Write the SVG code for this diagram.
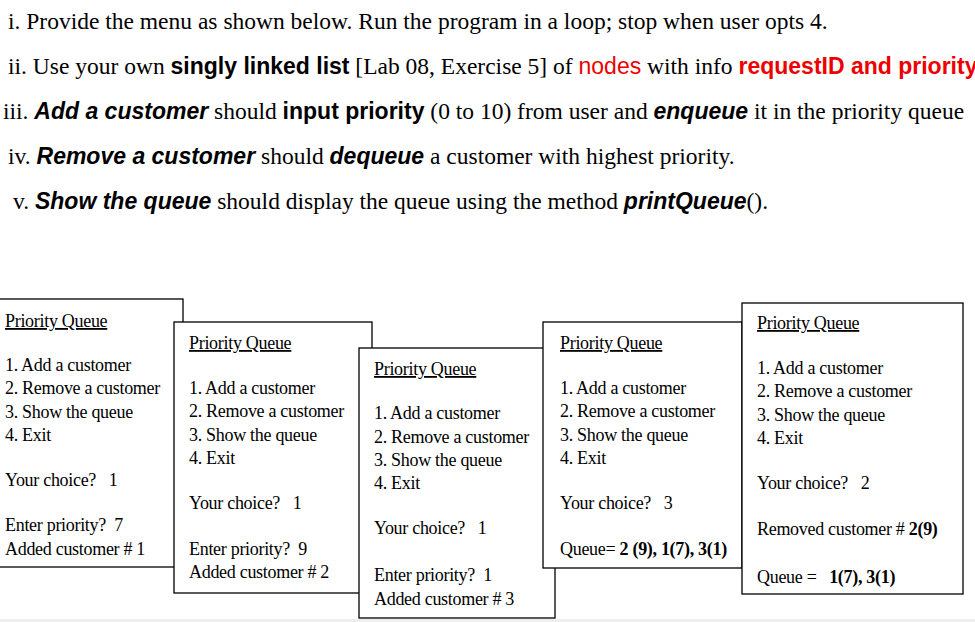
<svg xmlns="http://www.w3.org/2000/svg" width="975" height="622" viewBox="0 0 975 622">
<style>
.t{font-family:"Liberation Serif",serif;font-size:23.5px;fill:#000;white-space:pre}
.s{font-family:"Liberation Sans",sans-serif;font-weight:bold;font-size:23px}
.i{font-style:italic}
.r{fill:#e00}
.b{fill:#fff;stroke:#000;stroke-width:1.3}
.m{font-family:"Liberation Serif",serif;font-size:18px;letter-spacing:-0.3px;fill:#000;white-space:pre}
.u{text-decoration:underline}
.k{font-weight:bold}
</style>
<rect width="975" height="622" fill="#fff"/>
<rect x="0" y="619" width="975" height="3" fill="#eee"/>
<text class="t" x="8" y="29">i. Provide the menu as shown below. Run the program in a loop; stop when user opts 4.</text>
<text class="t" x="8" y="74">ii. Use your own <tspan class="s">singly linked list</tspan> [Lab 08, Exercise 5] of <tspan class="r" font-family="Liberation Sans, sans-serif" font-size="23px">nodes</tspan> with info <tspan class="s r">requestID and priority</tspan></text>
<text class="t" x="3" y="119">iii. <tspan class="s i">Add a customer</tspan> should <tspan class="s">input priority</tspan> (0 to 10) from user and <tspan class="s i">enqueue</tspan> it in the priority queue</text>
<text class="t" x="8" y="164">iv. <tspan class="s i">Remove a customer</tspan> should <tspan class="s i">dequeue</tspan> a customer with highest priority.</text>
<text class="t" x="13" y="209">v. <tspan class="s i">Show the queue</tspan> should display the queue using the method <tspan class="s i">printQueue</tspan>().</text>

<g id="box1">
<rect class="b" x="-1" y="299" width="184" height="268"/>
<text class="m" x="5"><tspan class="u" y="327" x="5">Priority Queue</tspan><tspan x="5" y="371">1. Add a customer</tspan><tspan x="5" y="394">2. Remove a customer</tspan><tspan x="5" y="418">3. Show the queue</tspan><tspan x="5" y="441">4. Exit</tspan><tspan x="5" y="486">Your choice?   1</tspan><tspan x="5" y="531">Enter priority?  7</tspan><tspan x="5" y="555">Added customer # 1</tspan></text>
</g>
<g id="box2">
<rect class="b" x="174" y="322" width="198" height="271"/>
<text class="m"><tspan class="u" y="349" x="189">Priority Queue</tspan><tspan x="189" y="394">1. Add a customer</tspan><tspan x="189" y="417">2. Remove a customer</tspan><tspan x="189" y="441">3. Show the queue</tspan><tspan x="189" y="464">4. Exit</tspan><tspan x="189" y="509">Your choice?   1</tspan><tspan x="189" y="555">Enter priority?  9</tspan><tspan x="189" y="578">Added customer # 2</tspan></text>
</g>
<g id="box3">
<rect class="b" x="359" y="348" width="196" height="270"/>
<text class="m"><tspan class="u" y="375" x="374">Priority Queue</tspan><tspan x="374" y="419">1. Add a customer</tspan><tspan x="374" y="443">2. Remove a customer</tspan><tspan x="374" y="466">3. Show the queue</tspan><tspan x="374" y="489">4. Exit</tspan><tspan x="374" y="534">Your choice?   1</tspan><tspan x="374" y="581">Enter priority?  1</tspan><tspan x="374" y="605">Added customer # 3</tspan></text>
</g>
<g id="box4">
<rect class="b" x="543" y="322" width="199" height="246"/>
<text class="m"><tspan class="u" y="349" x="560">Priority Queue</tspan><tspan x="560" y="394">1. Add a customer</tspan><tspan x="560" y="417">2. Remove a customer</tspan><tspan x="560" y="441">3. Show the queue</tspan><tspan x="560" y="464">4. Exit</tspan><tspan x="560" y="509">Your choice?   3</tspan><tspan x="560" y="555">Queue= <tspan class="k">2 (9), 1(7), 3(1)</tspan></tspan></text>
</g>
<g id="box5">
<rect class="b" x="742" y="303" width="221" height="291"/>
<text class="m"><tspan class="u" y="329" x="757">Priority Queue</tspan><tspan x="757" y="374">1. Add a customer</tspan><tspan x="757" y="397">2. Remove a customer</tspan><tspan x="757" y="421">3. Show the queue</tspan><tspan x="757" y="444">4. Exit</tspan><tspan x="757" y="489">Your choice?   2</tspan><tspan x="757" y="535">Removed customer # <tspan class="k">2(9)</tspan></tspan><tspan x="757" y="583">Queue =   <tspan class="k">1(7), 3(1)</tspan></tspan></text>
</g>
<g id="connectors"/>
</svg>
